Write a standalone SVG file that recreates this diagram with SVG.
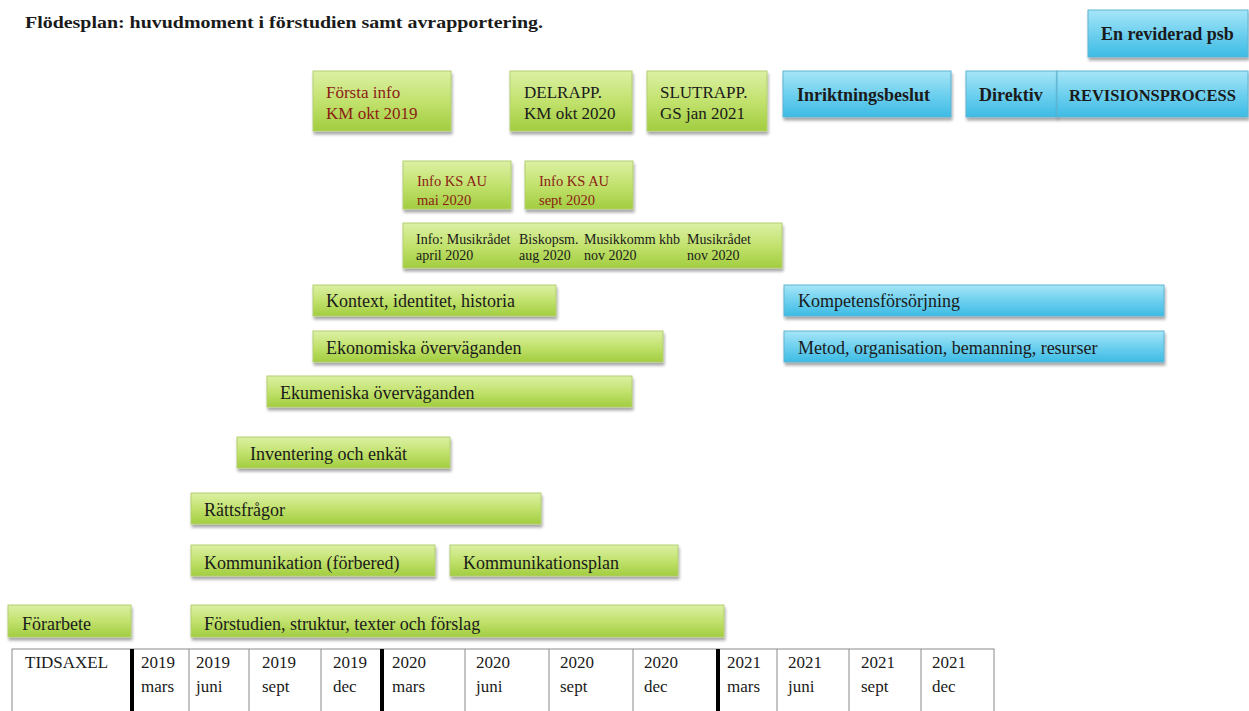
<svg xmlns="http://www.w3.org/2000/svg" width="1249" height="711" viewBox="0 0 1249 711">
<defs>
<linearGradient id="gGreen" x1="0" y1="0" x2="0" y2="1">
<stop offset="0" stop-color="#dcf0a4"/>
<stop offset="0.5" stop-color="#c2e26e"/>
<stop offset="1" stop-color="#a2cd40"/>
</linearGradient>
<linearGradient id="gBlue" x1="0" y1="0" x2="0" y2="1">
<stop offset="0" stop-color="#a6e6f7"/>
<stop offset="0.5" stop-color="#6fd0ef"/>
<stop offset="1" stop-color="#3dbbe4"/>
</linearGradient>
<filter id="sh" x="-5%" y="-20%" width="110%" height="150%">
<feGaussianBlur in="SourceAlpha" stdDeviation="1.5"/>
<feOffset dx="1" dy="3" result="b"/>
<feComponentTransfer><feFuncA type="linear" slope="0.35"/></feComponentTransfer>
<feMerge><feMergeNode/><feMergeNode in="SourceGraphic"/></feMerge>
</filter>
</defs>
<style>
text{font-family:"Liberation Serif","Times New Roman",serif;fill:#1a1a1a}
.g{fill:url(#gGreen);stroke:#b3cf72;stroke-width:1;filter:url(#sh)}
.b{fill:url(#gBlue);stroke:#5fb4d2;stroke-width:1;filter:url(#sh)}
.t{font-size:18px}
.tl{font-size:17px}
.tm{font-size:14.5px}
.ts{font-size:14px}
.red{fill:#8b1c14}
.bold{font-weight:bold;font-size:18px}
.thin{stroke:#8a8a8a;stroke-width:1}
.thick{stroke:#000;stroke-width:4}
</style>
<rect width="1249" height="711" fill="#fff"/>
<text x="25" y="28" font-weight="bold" font-size="17" textLength="518" lengthAdjust="spacingAndGlyphs">Flödesplan: huvudmoment i förstudien samt avrapportering.</text>

<g id="forsta-info"><rect class="g" x="313" y="71" width="138" height="60"/><text class="tl red" x="326" y="98">Första info</text><text class="tl red" x="326" y="119">KM okt 2019</text></g>
<g id="delrapp"><rect class="g" x="510" y="71" width="122" height="60"/><text class="tl" x="524" y="98">DELRAPP.</text><text class="tl" x="524" y="119">KM okt 2020</text></g>
<g id="slutrapp"><rect class="g" x="647" y="71" width="120" height="60"/><text class="tl" x="660" y="98">SLUTRAPP.</text><text class="tl" x="660" y="119">GS jan 2021</text></g>
<g id="inriktningsbeslut"><rect class="b" x="783" y="71" width="168" height="46"/><text class="bold" x="797" y="101">Inriktningsbeslut</text></g>
<g id="direktiv"><rect class="b" x="966" y="71" width="91" height="46"/><text class="bold" x="979" y="101">Direktiv</text></g>
<g id="revisionsprocess"><rect class="b" x="1057" y="71" width="191" height="46"/><text class="bold" x="1069" y="101" style="font-size:16.5px">REVISIONSPROCESS</text></g>
<g id="reviderad-psb"><rect class="b" x="1088" y="10" width="160" height="47"/><text class="bold" x="1101" y="40">En reviderad psb</text></g>

<g id="info-ks-au-mai"><rect class="g" x="403" y="161" width="108" height="48"/><text class="tm red" x="417" y="186">Info KS AU</text><text class="tm red" x="417" y="205">mai 2020</text></g>
<g id="info-ks-au-sept"><rect class="g" x="525" y="161" width="108" height="48"/><text class="tm red" x="539" y="186">Info KS AU</text><text class="tm red" x="539" y="205">sept 2020</text></g>
<g id="info-musikradet"><rect class="g" x="403" y="223" width="379" height="45"/>
<text class="ts" x="416" y="244">Info: Musikrådet</text><text class="ts" x="416" y="260">april 2020</text>
<text class="ts" x="519" y="244">Biskopsm.</text><text class="ts" x="519" y="260">aug 2020</text>
<text class="ts" x="584" y="244">Musikkomm khb</text><text class="ts" x="584" y="260">nov 2020</text>
<text class="ts" x="687" y="244">Musikrådet</text><text class="ts" x="687" y="260">nov 2020</text></g>

<g id="kontext"><rect class="g" x="313" y="285" width="243" height="31"/><text class="t" x="326" y="307">Kontext, identitet, historia</text></g>
<g id="ekonomiska"><rect class="g" x="313" y="331" width="350" height="31"/><text class="t" x="326" y="354">Ekonomiska överväganden</text></g>
<g id="ekumeniska"><rect class="g" x="267" y="376" width="365" height="31"/><text class="t" x="280" y="399">Ekumeniska överväganden</text></g>
<g id="inventering"><rect class="g" x="237" y="437" width="213" height="31"/><text class="t" x="250" y="460">Inventering och enkät</text></g>
<g id="rattsfragor"><rect class="g" x="191" y="493" width="350" height="31"/><text class="t" x="204" y="516">Rättsfrågor</text></g>
<g id="kommunikation-forbered"><rect class="g" x="191" y="545" width="244" height="31"/><text class="t" x="204" y="569">Kommunikation (förbered)</text></g>
<g id="kommunikationsplan"><rect class="g" x="450" y="545" width="228" height="31"/><text class="t" x="463" y="569">Kommunikationsplan</text></g>
<g id="forarbete"><rect class="g" x="8" y="605" width="123" height="32"/><text class="t" x="22" y="630">Förarbete</text></g>
<g id="forstudien"><rect class="g" x="191" y="605" width="533" height="32"/><text class="t" x="204" y="630">Förstudien, struktur, texter och förslag</text></g>
<g id="kompetens"><rect class="b" x="784" y="285" width="380" height="31"/><text class="t" x="798" y="307">Kompetensförsörjning</text></g>
<g id="metod"><rect class="b" x="784" y="331" width="380" height="31"/><text class="t" x="798" y="354">Metod, organisation, bemanning, resurser</text></g>

<g id="connectors"></g>

<g id="tidsaxel">
<rect x="12" y="649" width="982" height="70" fill="#fff" class="thin"/>
<line class="thin" x1="189" y1="649" x2="189" y2="711"/>
<line class="thin" x1="249" y1="649" x2="249" y2="711"/>
<line class="thin" x1="321" y1="649" x2="321" y2="711"/>
<line class="thin" x1="465" y1="649" x2="465" y2="711"/>
<line class="thin" x1="549" y1="649" x2="549" y2="711"/>
<line class="thin" x1="633" y1="649" x2="633" y2="711"/>
<line class="thin" x1="777" y1="649" x2="777" y2="711"/>
<line class="thin" x1="849" y1="649" x2="849" y2="711"/>
<line class="thin" x1="921" y1="649" x2="921" y2="711"/>
<line class="thick" x1="132" y1="649" x2="132" y2="711"/>
<line class="thick" x1="382" y1="649" x2="382" y2="711"/>
<line class="thick" x1="718" y1="649" x2="718" y2="711"/>
<text class="tl" x="25" y="668">TIDSAXEL</text>
<text class="tl" x="141" y="668">2019</text><text class="tl" x="141" y="692">mars</text>
<text class="tl" x="196" y="668">2019</text><text class="tl" x="196" y="692">juni</text>
<text class="tl" x="262" y="668">2019</text><text class="tl" x="262" y="692">sept</text>
<text class="tl" x="333" y="668">2019</text><text class="tl" x="333" y="692">dec</text>
<text class="tl" x="392" y="668">2020</text><text class="tl" x="392" y="692">mars</text>
<text class="tl" x="476" y="668">2020</text><text class="tl" x="476" y="692">juni</text>
<text class="tl" x="560" y="668">2020</text><text class="tl" x="560" y="692">sept</text>
<text class="tl" x="644" y="668">2020</text><text class="tl" x="644" y="692">dec</text>
<text class="tl" x="727" y="668">2021</text><text class="tl" x="727" y="692">mars</text>
<text class="tl" x="788" y="668">2021</text><text class="tl" x="788" y="692">juni</text>
<text class="tl" x="861" y="668">2021</text><text class="tl" x="861" y="692">sept</text>
<text class="tl" x="932" y="668">2021</text><text class="tl" x="932" y="692">dec</text>
</g>
</svg>
